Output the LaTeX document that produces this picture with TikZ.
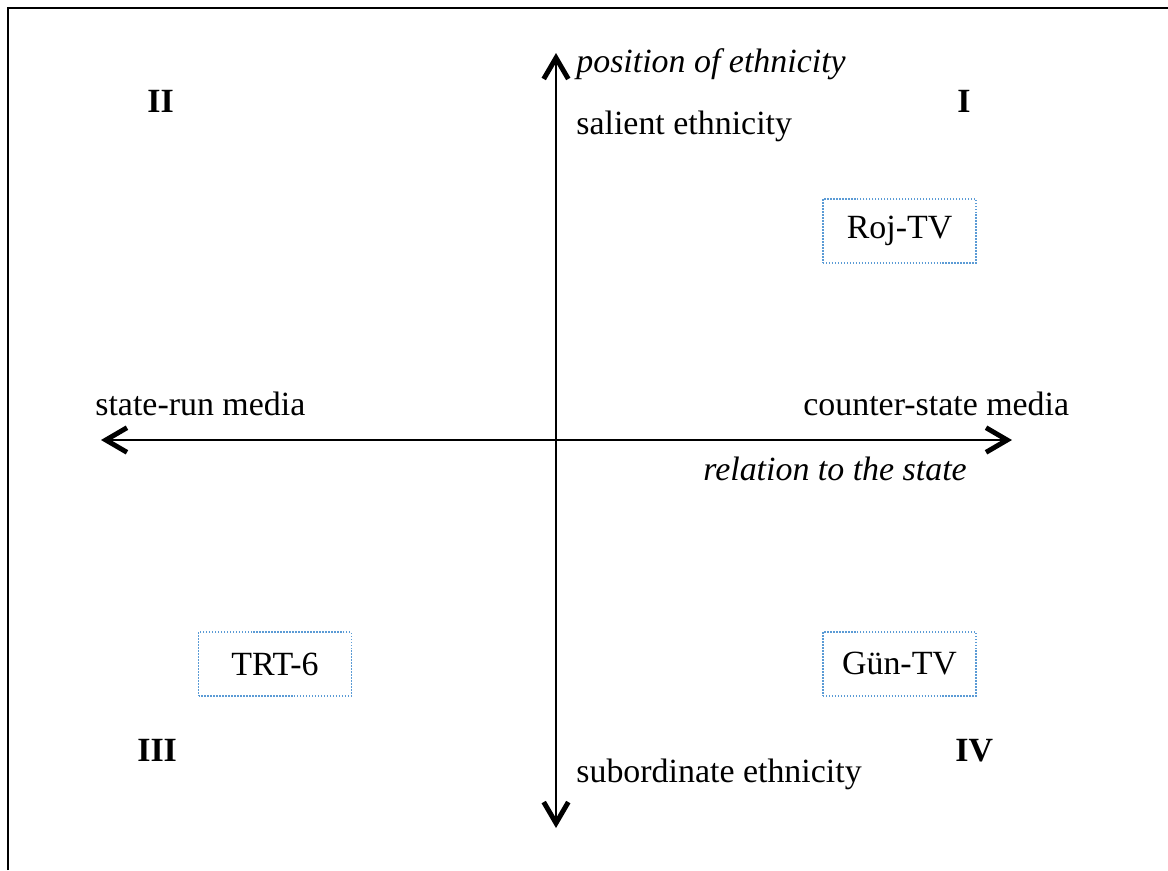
\documentclass[tikz,border=0pt]{standalone}
\usepackage{fontspec}
\setmainfont{Liberation Serif}
\usetikzlibrary{arrows.meta}
\definecolor{boxblue}{HTML}{5B9BD5}
\tikzset{
  lbl/.style={anchor=base west, inner sep=0pt, font=\fontsize{19.3}{23}\selectfont},
  ilbl/.style={lbl, font=\fontsize{19.3}{23}\selectfont\itshape},
  quad/.style={anchor=base west, inner sep=0pt, font=\fontsize{19.3}{23}\selectfont\bfseries},
  mbox/.style={draw=boxblue, line width=0.9pt, dash pattern=on 0.8pt off 0.9pt,
    minimum width=153*0.02cm, minimum height=64*0.02cm, inner sep=0pt,
    font=\fontsize{19.3}{23}\selectfont},
  tipb/.tip={Straight Barb[length=12pt,width=14pt,line width=2.8pt]},
  axis2/.style={line width=1.3pt, tipb-tipb},
  frame/.style={line width=1.4pt}
}
\begin{document}
\begin{tikzpicture}[x=0.02cm,y=-0.02cm]
\useasboundingbox (0,0) rectangle (1168,870);
% frame
\coordinate (fTL) at (8,8);
\coordinate (fTR) at (1168,8);
\coordinate (fBL) at (8,870);
\draw[frame] (fBL) -- (fTL) -- (fTR);
% axes
\coordinate (vTop) at (556,53);
\coordinate (vBot) at (556,828);
\coordinate (hL) at (101,440);
\coordinate (hR) at (1012,440);
\draw[axis2] (hL) -- (hR);
\draw[axis2] (vBot) -- (vTop);
% axis labels
\node[ilbl] (posEth) at (576,72) {position of ethnicity};
\node[lbl] (salient) at (576,134) {salient ethnicity};
\node[lbl] (subord) at (576,782) {subordinate ethnicity};
\node[lbl] (staterun) at (95,415) {state-run media};
\node[lbl] (counter) at (803,415) {counter-state media};
\node[ilbl] (relation) at (703,480) {relation to the state};
% quadrant numerals
\node[quad] (qII) at (147,112) {II};
\node[quad] (qI) at (957,112) {I};
\node[quad] (qIII) at (137,761) {III};
\node[quad] (qIV) at (955,761) {IV};
% media boxes
\node[mbox] (roj) at (899.5,231) {Roj-TV};
\node[mbox] (trt) at (275,664) {TRT-6};
\node[mbox] (gun) at (899.5,664) {Gün-TV};
\end{tikzpicture}
\end{document}
